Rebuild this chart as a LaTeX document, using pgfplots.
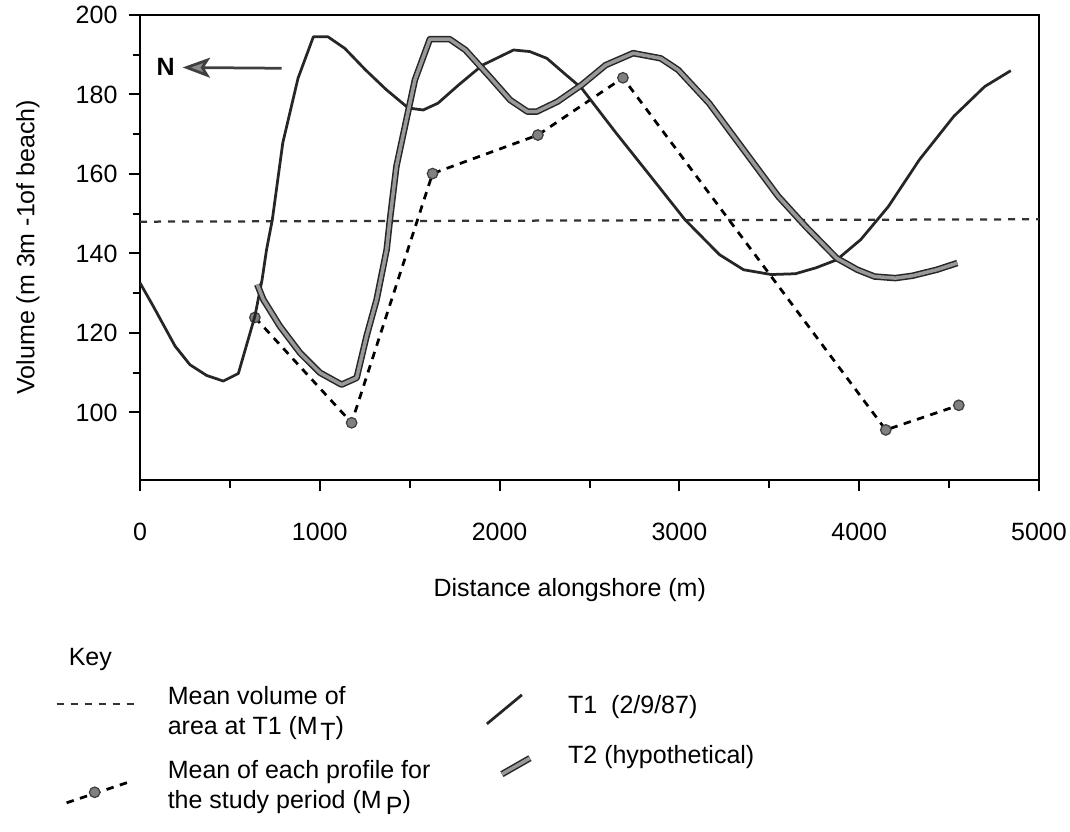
\documentclass[border=0pt]{standalone}
\usepackage{fontspec}
\setmainfont{Liberation Sans}
\usepackage{pgfplots}
\pgfplotsset{compat=1.18}
\usetikzlibrary{arrows.meta}

\begin{document}
\begin{tikzpicture}[font=\fontsize{10}{12}\selectfont]
\begin{axis}[
  scale only axis, width=359.6pt, height=186pt,
  clip mode=individual,
  xmin=0, xmax=5000, ymin=83, ymax=200,
  xtick={0,1000,...,5000}, ytick={100,120,...,200},
  minor x tick num=1, minor y tick num=1,
  xtick pos=bottom, ytick pos=left, tick align=outside,
  major tick length=4.5pt, minor tick length=3pt,
  tick style={black, line width=0.8pt},
  axis line style={black, line width=0.9pt},
  /pgf/number format/1000 sep={},
  /pgf/number format/assume math mode=true,
  xticklabel shift=9pt, yticklabel shift=1pt,
  xlabel={Distance alongshore (m)},
  ylabel={Volume (m 3m -1of beach)},
  xlabel style={at={(axis description cs:0.478,-0.2366)}, anchor=center},
  ylabel style={at={(axis description cs:-0.1246,0.501)}, anchor=center},
  legend cell align=left,
  legend style={draw=none, fill=none, at={(axis description cs:-0.0945,-0.443)},
    anchor=north west, inner sep=0pt, row sep=9pt, /tikz/column sep=12.8pt,
    nodes={inner sep=0pt, align=left}},
]
% mean volume of area at T1
\addplot[forget plot, black!80, line width=0.9pt, dash pattern=on 2.8pt off 2.8pt]
  coordinates {(0,148) (5000,148.6)};

% mean of each profile
\addplot[forget plot, black, line width=1.1pt, dash pattern=on 3pt off 2.6pt,
  mark=*, mark size=2.1pt, mark options={solid, fill=black!50, draw=black!75, line width=0.5pt}]
  coordinates {(639,123.9) (1177,97.4) (1627,160.1) (2213,169.8) (2686,184.2) (4148,95.6) (4554,101.8)};

% T1 (2/9/87)
\addplot[forget plot, black!85, line width=1.1pt, line join=round]
  coordinates {(0,132.6) (74,126.7) (195,116.7) (278,112) (371,109.3) (463,107.9)
  (547,109.8) (639,124.2) (679,133.4) (704,141) (736,148.5) (794,167.8) (879,184.1)
  (964,194.5) (1046,194.5) (1139,191.6) (1254,186.2) (1370,181.2) (1492,176.6)
  (1575,176.1) (1657,177.8) (1772,182.4) (1905,187.4) (2078,191.2) (2168,190.8)
  (2263,189.1) (2360,185.3) (2456,181.6) (2648,170.3) (2840,159.4) (3031,148.5)
  (3223,139.7) (3357,135.9) (3511,134.7) (3645,134.9) (3760,136.4) (3875,138.4)
  (4009,143.5) (4162,151.8) (4335,163.6) (4526,174.5) (4698,182) (4843,186)};

% T2 (hypothetical)
\addplot[forget plot, draw=black!85, double=black!40, double distance=1.4pt,
  line width=0.6pt, line join=round]
  coordinates {(652,132.2) (686,128.4) (778,121.7) (890,115) (1001,110) (1121,107)
  (1205,108.7) (1260,119.2) (1316,128.4) (1372,141) (1390,148.5) (1426,161.9)
  (1529,183.7) (1612,193.9) (1723,193.9) (1810,191.2) (1944,184.5) (2059,178.6)
  (2155,175.7) (2207,175.7) (2322,178.2) (2456,182.4) (2590,187.4) (2743,190.4)
  (2896,189.1) (2993,186.2) (3165,177.8) (3357,166.1) (3549,154.4) (3702,146.8)
  (3875,138.8) (3990,135.9) (4085,134.2) (4201,133.8) (4297,134.4) (4431,135.9)
  (4546,137.6)};

% north arrow
\draw[black!75, line width=1.1pt,
  -{Stealth[length=11pt, width=8pt, inset=2.5pt, fill=black!45]}]
  (axis cs:788,186.6) -- (axis cs:237,186.8);
\node[font=\fontsize{10}{12}\selectfont\bfseries] at (axis cs:142,187) {N};

\node[anchor=west] at (axis description cs:-0.089,-0.387) {Key};

\addlegendimage{legend image code/.code={\path (0pt,-4pt) (31.2pt,4pt);
    \draw[black!80, line width=0.9pt, dash pattern=on 2.8pt off 2.8pt]
      (0pt,3.4pt) -- (31.2pt,3.4pt);}}
\addlegendentry{Mean volume of\\area at T1 (M\kern1pt\raisebox{-0.45ex}{T})}
\addlegendimage{legend image code/.code={\path (0pt,-4pt) (31.2pt,4pt);
    \draw[black, line width=1.1pt, dash pattern=on 3pt off 2.6pt]
      (4pt,-6.4pt) -- (29.2pt,2pt);
    \draw[black, mark=*, mark size=2.1pt, mark options={solid, fill=black!50, draw=black!75, line width=0.5pt}]
      plot[only marks] coordinates {(15.2pt,-2.2pt)};}}
\addlegendentry{Mean of each profile for\\the study period (M\,\raisebox{-0.45ex}{P})}
\end{axis}

\begin{axis}[
  hide axis, scale only axis, width=359.6pt, height=186pt,
  xmin=0, xmax=1, ymin=0, ymax=1,
  legend cell align=left,
  legend style={draw=none, fill=none, at={(axis description cs:0.3838,-0.458)},
    anchor=north west, inner sep=0pt, row sep=8pt, /tikz/column sep=14pt,
    nodes={inner sep=0pt, align=left}},
]
\addlegendimage{legend image code/.code={\path (0pt,0pt) (17.2pt,0pt);
    \draw[black!85, line width=1.1pt] (0pt,-7.2pt) -- (14pt,4.4pt);}}
\addlegendentry{T1\ \ (2/9/87)}
\addlegendimage{legend image code/.code={\path (0pt,0pt) (17.2pt,0pt);
    \draw[draw=black!85, double=black!40, double distance=1.4pt, line width=0.6pt]
      (6pt,-7.2pt) -- (17.2pt,-0.8pt);}}
\addlegendentry{T2 (hypothetical)}
\end{axis}

\pgfresetboundingbox
\useasboundingbox (-56pt,-140.4pt) rectangle (372pt,192pt);
\end{tikzpicture}
\end{document}
